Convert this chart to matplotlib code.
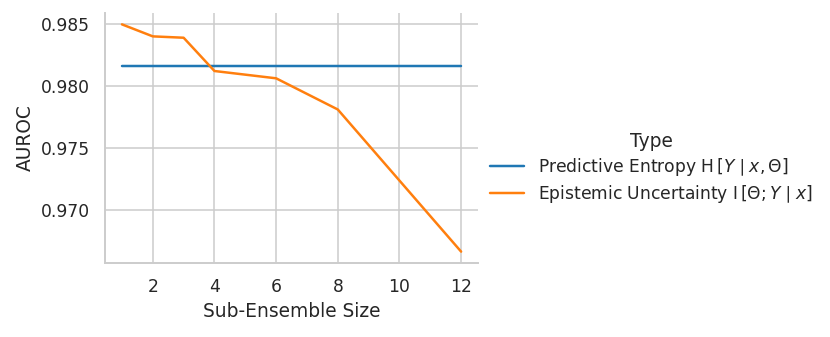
import numpy as np
import matplotlib
matplotlib.use("Agg")
import matplotlib.pyplot as plt
import seaborn as sns

# sub-ensemble sizes and AUROC values
sizes = [1, 2, 3, 4, 6, 8, 12]
entropy_auroc = [0.98159, 0.98159, 0.98159, 0.98159, 0.98159, 0.98159, 0.98159]
epistemic_auroc = [0.98498, 0.98401, 0.98390, 0.98121, 0.98062, 0.97810, 0.96661]
labels = [r"Predictive Entropy $\mathrm{H}\,[Y \mid x, \Theta]$",
          r"Epistemic Uncertainty $\mathrm{I}\,[\Theta; Y \mid x]$"]

sns.set_theme(style="whitegrid", context="notebook")
plt.rcParams['font.family'] = ['DejaVu Sans']

dpi = 112
fig = plt.figure(figsize=(830 / dpi, 337 / dpi), dpi=dpi)
ax = fig.add_axes([0.1265, 0.2196, 0.4495, 0.7418])

colors = sns.color_palette("tab10")
ax.plot(sizes, entropy_auroc, color=colors[0], lw=1.6, label=labels[0])
ax.plot(sizes, epistemic_auroc, color=colors[1], lw=1.6, label=labels[1])

ax.set_xticks([2, 4, 6, 8, 10, 12])
ax.set_yticks([0.970, 0.975, 0.980, 0.985])
ax.set_xlabel("Sub-Ensemble Size")
ax.set_ylabel("AUROC")
sns.despine(ax=ax)

leg = fig.legend(loc="center left", bbox_to_anchor=(0.572, 0.50), frameon=False,
                 title="Type", labelspacing=0.3)
leg.get_title().set_fontsize(12)

fig.savefig("out.png", dpi=dpi)
plt.close()
